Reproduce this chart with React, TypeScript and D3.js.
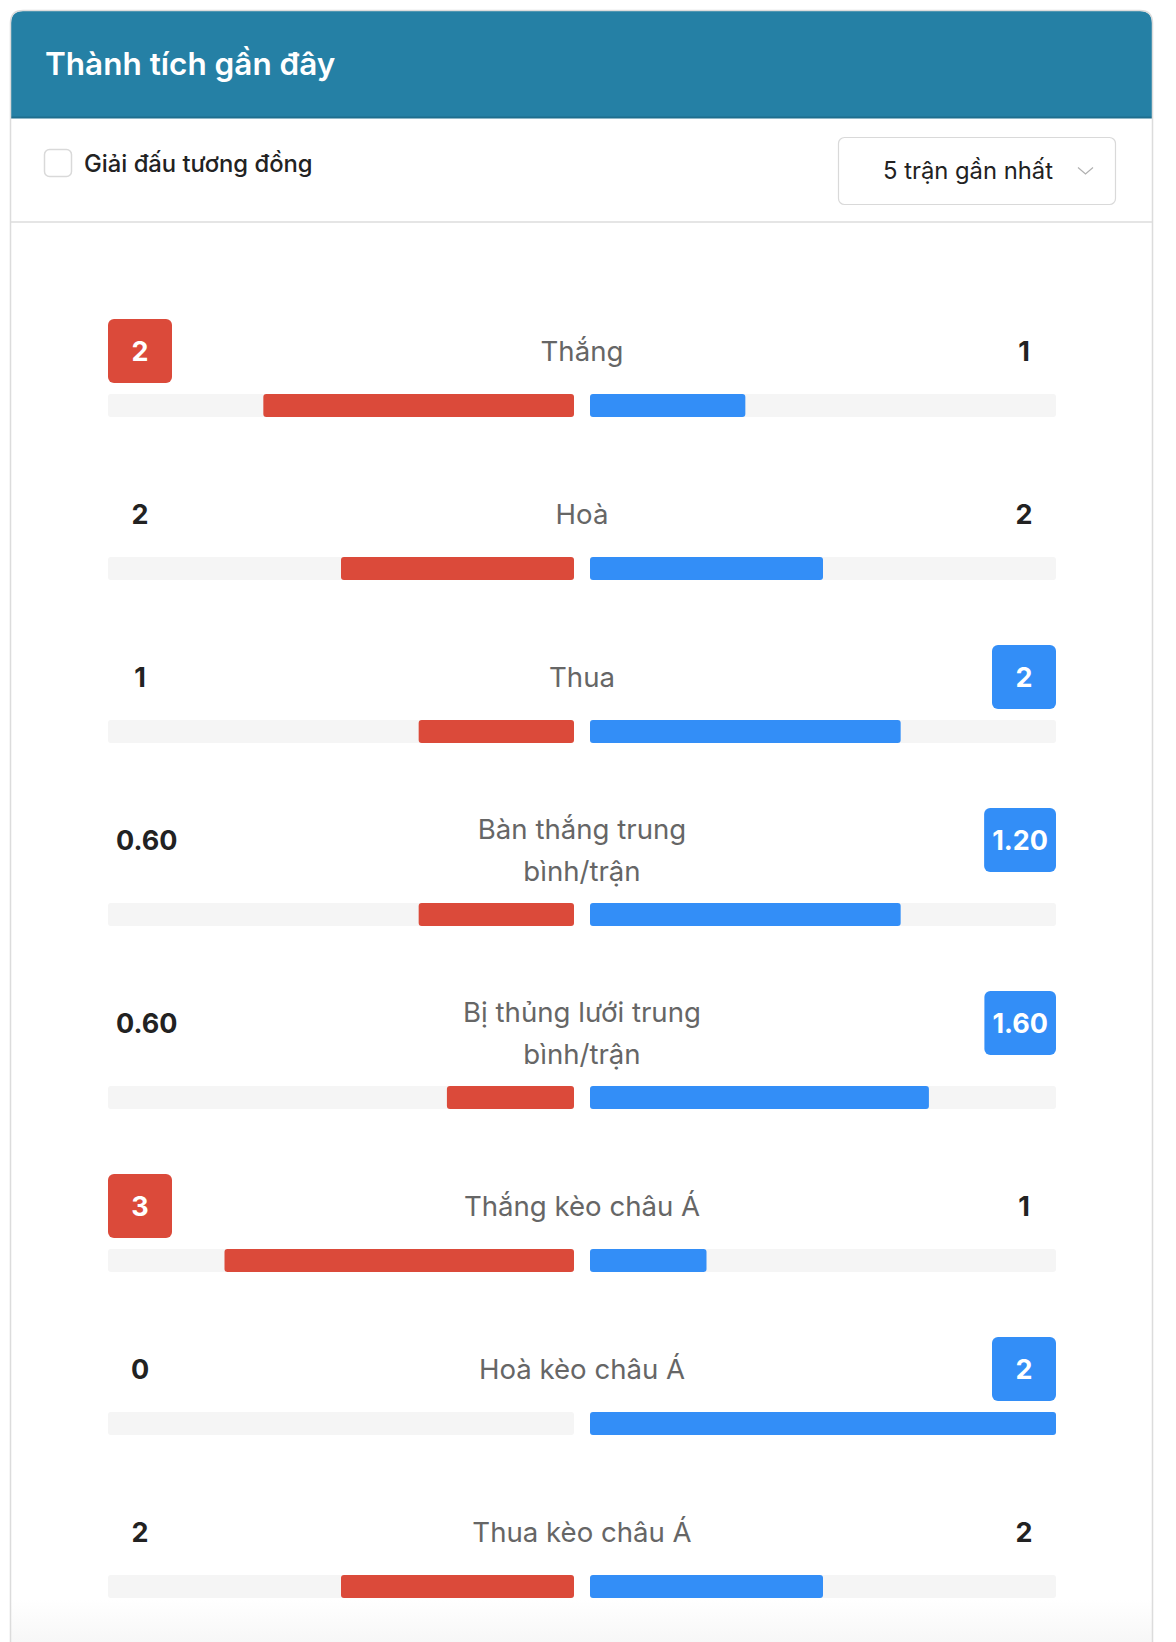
import React, { useMemo } from "react";
import * as d3 from "d3";

const title = "Thành tích gần đây";
const checkboxLabel = "Giải đấu tương đồng";
const dropdownLabel = "5 trận gần nhất";
const categories = [
  "Thắng",
  "Hoà",
  "Thua",
  "Bàn thắng trung bình/trận",
  "Bị thủng lưới trung bình/trận",
  "Thắng kèo châu Á",
  "Hoà kèo châu Á",
  "Thua kèo châu Á",
];
const homeValues = [2, 2, 1, 0.6, 0.6, 3, 0, 2];
const awayValues = [1, 2, 2, 1.2, 1.6, 1, 2, 2];
const valueFormats = ["d", "d", "d", ".2f", ".2f", "d", "d", "d"];

const W = 1176;
const H = 1642;
const FONT = "Inter, 'Noto Sans', 'DejaVu Sans', sans-serif";
const RED = "#DB4A3A";
const BLUE = "#338EF7";
const TRACK = "#F5F5F5";

let _ctx: CanvasRenderingContext2D | null = null;
function measure(text: string, font: string): number {
  if (!_ctx) {
    const c = document.createElement("canvas");
    _ctx = c.getContext("2d");
  }
  if (!_ctx) return text.length * 14;
  _ctx.font = font;
  return _ctx.measureText(text).width;
}

function wrap(text: string, maxW: number, font: string): string[] {
  const words = text.split(" ");
  const lines: string[] = [];
  let cur = "";
  for (const w of words) {
    const t = cur ? cur + " " + w : w;
    if (cur && measure(t, font) > maxW) {
      lines.push(cur);
      cur = w;
    } else cur = t;
  }
  if (cur) lines.push(cur);
  return lines;
}

export default function App() {
  const labelSize = 27.6;
  const labelFont = `400 ${labelSize}px ${FONT}`;
  const numFont = `700 27px ${FONT}`;
  const trackL0 = 108;
  const trackR1 = 1056;
  const gap = 16;
  const half = (trackR1 - trackL0 - gap) / 2;
  const centerX = (trackL0 + trackR1) / 2;
  const lineH = 42;
  const boxH = 64;
  const barH = 23;

  const rows = useMemo(() => {
    let y = 319;
    return categories.map((cat, i) => {
      const lines = wrap(cat, 262, labelFont);
      const headerH = Math.max(boxH, lines.length * lineH);
      const barTop = y + headerH + 11;
      const total = homeValues[i] + awayValues[i];
      const scale = d3.scaleLinear().domain([0, total || 1]).range([0, half]);
      const row = { cat, lines, y, headerH, barTop, scale, i };
      y = barTop + barH + 65;
      return row;
    });
  }, []);

  return (
    <div style={{ position: "absolute", left: 0, top: 0, width: W, height: H, overflow: "hidden", background: "#fff" }}>
      <svg width={W} height={H} style={{ display: "block" }} fontFamily={FONT}>
        <defs>
          <linearGradient id="fade" x1="0" y1="0" x2="0" y2="1">
            <stop offset="0" stopColor="#ffffff" />
            <stop offset="1" stopColor="#f7f7f7" />
          </linearGradient>
          <clipPath id="cardClip">
            <path d={`M11,${H + 40} V23 Q11,11 23,11 H1140 Q1152,11 1152,23 V${H + 40} Z`} />
          </clipPath>
        </defs>
        {/* card */}
        <g clipPath="url(#cardClip)">
          <rect x={0} y={0} width={W} height={H + 40} fill="#fff" />
          <rect x={0} y={1600} width={W} height={H - 1600} fill="url(#fade)" />
          <rect x={0} y={0} width={W} height={118} fill="#2580A5" />
          <rect x={0} y={116.5} width={W} height={2} fill="#1F6E8E" />
        </g>
        <path
          d={`M10.5,${H + 40} V23 Q10.5,10.5 23,10.5 H1140 Q1152.5,10.5 1152.5,23 V${H + 40}`}
          fill="none"
          stroke="#DCDCDC"
          strokeWidth={1.5}
        />
        <text x={45} y={75} fill="#fff" fontSize={31.5} fontWeight={600}>
          {title}
        </text>

        {/* controls */}
        <rect x={44.5} y={149.5} width={27} height={27} rx={5} fill="#fff" stroke="#D9D9D9" strokeWidth={1.5} />
        <text x={84} y={172} fill="#222" fontSize={23.8} fontWeight={500}>
          {checkboxLabel}
        </text>
        <rect x={838.5} y={137.5} width={277} height={67} rx={6} fill="#fff" stroke="#D9D9D9" strokeWidth={1.2} />
        <text x={883} y={179} fill="#222" fontSize={23.8} fontWeight={400}>
          {dropdownLabel}
        </text>
        <path d="M1078,167.5 L1085.5,174 L1093,167.5" fill="none" stroke="#B0B0B0" strokeWidth={1.2} />
        <line x1={11} x2={1152} y1={222} y2={222} stroke="#DDDDDD" strokeWidth={1.5} />

        {/* rows */}
        {rows.map((r) => {
          const hv = homeValues[r.i];
          const av = awayValues[r.i];
          const fmt = d3.format(valueFormats[r.i]);
          const hs = fmt(hv);
          const as = fmt(av);
          const hw = Math.max(boxH, measure(hs, numFont) + 16);
          const aw = Math.max(boxH, measure(as, numFont) + 16);
          const homeBadge = hv > av;
          const awayBadge = av > hv;
          const leftEnd = trackL0 + half;
          const rightStart = leftEnd + gap;
          const lblTop = r.y + (r.headerH - r.lines.length * lineH) / 2;
          return (
            <g key={r.cat}>
              {homeBadge && <rect x={trackL0} y={r.y} width={hw} height={boxH} rx={6} fill={RED} />}
              <text
                x={trackL0 + hw / 2}
                y={r.y + boxH / 2}
                textAnchor="middle"
                dominantBaseline="central"
                fontSize={27}
                fontWeight={700}
                fill={homeBadge ? "#fff" : "#222"}
              >
                {hs}
              </text>
              {awayBadge && <rect x={trackR1 - aw} y={r.y} width={aw} height={boxH} rx={6} fill={BLUE} />}
              <text
                x={trackR1 - aw / 2}
                y={r.y + boxH / 2}
                textAnchor="middle"
                dominantBaseline="central"
                fontSize={27}
                fontWeight={700}
                fill={awayBadge ? "#fff" : "#222"}
              >
                {as}
              </text>
              {r.lines.map((ln, k) => (
                <text
                  key={k}
                  x={centerX}
                  y={lblTop + lineH * k + lineH / 2}
                  textAnchor="middle"
                  dominantBaseline="central"
                  fontSize={labelSize}
                  fill="#666"
                >
                  {ln}
                </text>
              ))}
              <rect x={trackL0} y={r.barTop} width={half} height={barH} rx={3} fill={TRACK} />
              <rect x={rightStart} y={r.barTop} width={half} height={barH} rx={3} fill={TRACK} />
              {hv > 0 && (
                <rect x={leftEnd - r.scale(hv)} y={r.barTop} width={r.scale(hv)} height={barH} rx={3} fill={RED} />
              )}
              {av > 0 && (
                <rect x={rightStart} y={r.barTop} width={r.scale(av)} height={barH} rx={3} fill={BLUE} />
              )}
            </g>
          );
        })}
      </svg>
    </div>
  );
}
